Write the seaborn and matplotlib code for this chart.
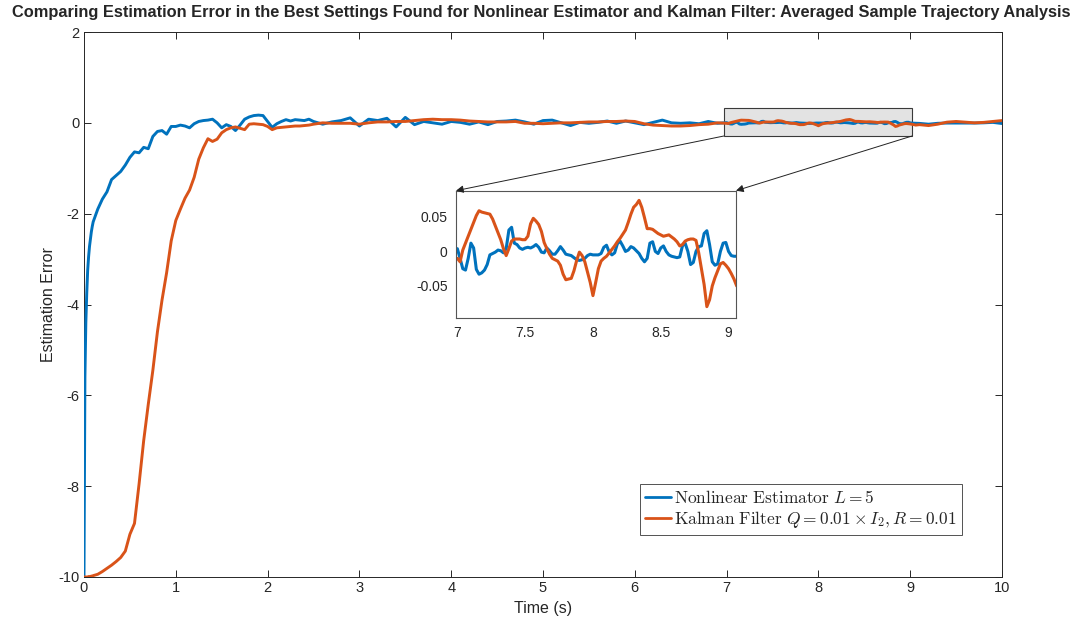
import numpy as np
import pandas as pd
import matplotlib
matplotlib.use("Agg")
import matplotlib.pyplot as plt
import seaborn as sns
from matplotlib.patches import Rectangle, ConnectionPatch

# ---------------- data ----------------
# sampling grid (s): fine at start, fine in the zoomed window
time_seg1 = np.round(0.00 + 0.01 * np.arange(10), 2)    # 0.00 .. 0.09
time_seg2 = np.round(0.10 + 0.05 * np.arange(48), 2)    # 0.10 .. 2.45
time_seg3 = np.round(2.50 + 0.10 * np.arange(45), 2)    # 2.5 .. 6.9
time_seg4 = np.round(7.00 + 0.02 * np.arange(104), 2)   # 7.00 .. 9.06
time_seg5 = np.round(9.10 + 0.10 * np.arange(10), 2)    # 9.1 .. 10.0

nle_seg1 = [-10.0, -5.6, -4.4, -3.75, -3.25, -2.95, -2.72, -2.55, -2.4, -2.28]
nle_seg2 = [-2.18, -1.9, -1.68, -1.52, -1.25, -1.16, -1.07, -0.93, -0.76, -0.64,
            -0.66, -0.54, -0.57, -0.3, -0.19, -0.17, -0.25, -0.08, -0.08, -0.05,
            -0.07, -0.11, -0.02, 0.03, 0.05, 0.06, 0.08, 0.0, -0.11, -0.04,
            -0.08, -0.17, -0.05, 0.08, 0.13, 0.16, 0.17, 0.16, 0.03, -0.1,
            -0.02, 0.03, 0.07, 0.04, 0.07, 0.06, 0.05, 0.08]
nle_seg3 = [0.03, -0.03, 0.02, 0.05, 0.11,
            -0.07, 0.08, 0.05, 0.10, -0.09, 0.12, -0.04, 0.03, 0.0, -0.03,
            0.03, 0.01, -0.03, 0.02, -0.04, 0.03, 0.04, 0.06, 0.02, -0.03,
            0.05, 0.06, 0.0, -0.06, 0.01, -0.01, 0.01, 0.04, -0.01, 0.04,
            0.0, -0.04, 0.01, 0.06, 0.0, -0.01, 0.0, -0.02, 0.03, -0.01]
nle_seg4 = [0.004, -0.01, -0.025, -0.027, -0.01, 0.012, 0.005, -0.026, -0.033, -0.031,
            -0.027, -0.019, -0.005, -0.003, -0.001, 0.002, 0.001, -0.002, 0.004, 0.031,
            0.035, 0.012, 0.01, 0.005, 0.003, 0.005, 0.006, 0.005, 0.007, 0.01,
            0.006, -0.001, -0.002, 0.005, 0.001, -0.004, -0.004, 0.001, 0.007, 0.002,
            -0.004, -0.005, -0.006, -0.009, -0.012, -0.013, -0.012, -0.01, -0.006, -0.004,
            -0.005, -0.005, -0.005, -0.003, 0.006, 0.009, -0.001, -0.005, -0.002, 0.011,
            0.015, 0.008, 0.0, 0.002, 0.007, 0.005, 0.001, -0.003, -0.01, -0.015,
            -0.01, 0.012, 0.014, 0.0, -0.003, 0.005, 0.008, 0.0, -0.005, -0.007,
            -0.008, -0.009, -0.008, 0.008, 0.012, 0.0, -0.019, -0.016, 0.0, 0.007,
            0.008, 0.026, 0.03, 0.01, -0.015, -0.02, -0.018, 0.0, 0.012, 0.013,
            0.0, -0.006, -0.007, -0.007]
nle_seg5 = [-0.012, -0.03, -0.01, -0.005, -0.005, -0.005, -0.005, 0.0, 0.01, -0.015]

kf_seg1 = [-10.0, -10.0, -10.0, -10.0, -10.0, -9.99, -9.99, -9.99, -9.98, -9.98]
kf_seg2 = [-9.97, -9.94, -9.88, -9.81, -9.74, -9.66, -9.57, -9.43, -9.06, -8.82,
           -7.95, -7.0, -6.2, -5.45, -4.6, -3.9, -3.3, -2.6, -2.15, -1.9,
           -1.66, -1.48, -1.2, -0.8, -0.55, -0.35, -0.41, -0.36, -0.22, -0.15,
           -0.11, -0.09, -0.12, -0.15, -0.03, -0.02, -0.03, -0.04, -0.08, -0.15,
           -0.11, -0.1, -0.09, -0.08, -0.07, -0.07, -0.06, -0.05]
kf_seg3 = [-0.03, 0.0, -0.01, -0.01, -0.01,
           -0.03, 0.0, 0.02, 0.02, 0.03, 0.03, 0.05, 0.07, 0.08, 0.07,
           0.07, 0.06, 0.04, 0.03, 0.02, 0.02, 0.02, 0.03, -0.01, -0.01,
           -0.02, -0.01, 0.0, 0.0, 0.01, 0.02, 0.02, 0.03, 0.03, 0.04,
           0.03, -0.02, -0.05, -0.06, -0.07, -0.07, -0.06, -0.04, -0.03, 0.0]
kf_seg4 = [-0.01, -0.015, 0.002, 0.012, 0.022, 0.032, 0.042, 0.052, 0.059, 0.057,
           0.056, 0.055, 0.054, 0.047, 0.037, 0.027, 0.017, 0.004, -0.006, 0.004,
           0.015, 0.018, 0.018, 0.018, 0.017, 0.017, 0.022, 0.04, 0.048, 0.044,
           0.039, 0.029, 0.013, 0.004, -0.004, -0.01, -0.012, -0.014, -0.02, -0.033,
           -0.041, -0.04, -0.039, -0.028, -0.013, -0.001, -0.006, -0.015, -0.03, -0.045,
           -0.064, -0.045, -0.025, -0.014, -0.01, -0.007, -0.002, 0.003, 0.008, 0.014,
           0.019, 0.025, 0.031, 0.042, 0.054, 0.064, 0.068, 0.074, 0.064, 0.049,
           0.033, 0.033, 0.032, 0.029, 0.026, 0.024, 0.022, 0.023, 0.024, 0.021,
           0.018, 0.014, 0.008, 0.01, 0.015, 0.017, 0.018, 0.018, 0.016, -0.002,
           -0.025, -0.048, -0.08, -0.07, -0.05, -0.038, -0.028, -0.018, -0.016, -0.02,
           -0.025, -0.032, -0.04, -0.05]
kf_seg5 = [-0.04, -0.06, -0.03, 0.015, 0.03, 0.015, 0.0, 0.01, 0.03, 0.05]

label_nle = r"$\mathrm{Nonlinear\ Estimator}\ L = 5$"
label_kf = r"$\mathrm{Kalman\ Filter}\ Q = 0.01 \times I_2, R = 0.01$"

time_s = np.concatenate([time_seg1, time_seg2, time_seg3, time_seg4, time_seg5])
nle_err = np.array(nle_seg1 + nle_seg2 + nle_seg3 + nle_seg4 + nle_seg5)
kf_err = np.array(kf_seg1 + kf_seg2 + kf_seg3 + kf_seg4 + kf_seg5)

df = pd.concat([
    pd.DataFrame({"Time": time_s, "Error": nle_err, "Method": label_nle}),
    pd.DataFrame({"Time": time_s, "Error": kf_err, "Method": label_kf}),
], ignore_index=True)

zoom_x = (6.97, 9.02)
zoom_y = (-0.29, 0.32)

# ---------------- style ----------------
sns.set_style("ticks")
plt.rcParams["font.family"] = ["Liberation Sans", "DejaVu Sans"]
plt.rcParams["mathtext.fontset"] = "cm"
plt.rcParams["axes.unicode_minus"] = False
plt.rcParams["axes.edgecolor"] = "#262626"
plt.rcParams["xtick.color"] = "#262626"
plt.rcParams["ytick.color"] = "#262626"

blue = "#0072BD"
orange = "#D95319"
palette = {label_nle: blue, label_kf: orange}

fig = plt.figure(figsize=(10.82, 6.23), dpi=100)
ax = fig.add_axes([84 / 1082, 1 - 577 / 623, 918 / 1082, 545 / 623])

sns.lineplot(data=df, x="Time", y="Error", hue="Method", palette=palette,
             linewidth=2.1, estimator=None, sort=False, ax=ax, zorder=3)

ax.set_xlim(0, 10)
ax.set_ylim(-10, 2)
ax.set_xticks(np.arange(0, 11, 1))
ax.set_yticks(np.arange(-10, 3, 2))
ax.tick_params(direction="in", top=True, right=True, labelsize=10.5,
               length=5, width=0.7, pad=3)
for s in ax.spines.values():
    s.set_linewidth(0.7)
    s.set_visible(True)
ax.set_xlabel("Time (s)", fontsize=11.5, color="#262626", labelpad=4)
ax.set_ylabel("Estimation Error", fontsize=11.5, color="#262626", labelpad=2)

ax.add_patch(Rectangle((zoom_x[0], zoom_y[0]), zoom_x[1] - zoom_x[0],
                       zoom_y[1] - zoom_y[0], facecolor="#e3e3e3",
                       edgecolor="#3a3a3a", linewidth=0.8, zorder=2))

handles, labels = ax.get_legend_handles_labels()
leg = ax.legend(handles, labels, loc="upper left",
                bbox_to_anchor=((640 - 84) / 918, (577 - 484) / 545),
                borderaxespad=0, fontsize=12.5, frameon=True, fancybox=False,
                edgecolor="#262626", handlelength=1.5, handletextpad=0.15,
                borderpad=0.3, labelspacing=0.15)
leg.get_frame().set_linewidth(0.7)
for lh in leg.get_lines():
    lh.set_linewidth(2.0)

# ---------------- inset ----------------
axins = fig.add_axes([456 / 1082, 1 - 317.7 / 623, 280 / 1082, 127 / 623])
sns.lineplot(data=df[(df.Time >= 6.98) & (df.Time <= 9.07)], x="Time", y="Error",
             hue="Method", palette=palette, linewidth=2.2, estimator=None,
             sort=False, legend=False, ax=axins)
axins.set_xlim(6.99, 9.055)
axins.set_ylim(-0.096, 0.088)
axins.set_xticks([7, 7.5, 8, 8.5, 9])
axins.set_xticklabels(["7", "7.5", "8", "8.5", "9"])
axins.set_yticks([-0.05, 0, 0.05])
axins.set_yticklabels(["-0.05", "0", "0.05"])
axins.set_xlabel("")
axins.set_ylabel("")
axins.tick_params(direction="in", top=False, right=False, labelsize=10,
                  length=0, pad=6)
for s in axins.spines.values():
    s.set_linewidth(0.8)
    s.set_color("#555555")
    s.set_visible(True)
axins.set_facecolor("white")

for xa, xb in [(zoom_x[0], 0), (zoom_x[1], 1)]:
    con = ConnectionPatch(xyA=(xa, zoom_y[0]), coordsA=ax.transData,
                          xyB=(xb, 1), coordsB=axins.transAxes,
                          arrowstyle="-|>", color="#222222", lw=0.7,
                          mutation_scale=11, shrinkA=0, shrinkB=0)
    fig.add_artist(con)

fig.text(0.5005, 1 - 12 / 623,
         "Comparing Estimation Error in the Best Settings Found for Nonlinear "
         "Estimator and Kalman Filter: Averaged Sample Trajectory Analysis",
         ha="center", va="center", fontsize=11.8, fontweight="bold",
         family=["Liberation Sans Narrow", "Liberation Sans", "DejaVu Sans"])

fig.savefig("out.png", dpi=100)
